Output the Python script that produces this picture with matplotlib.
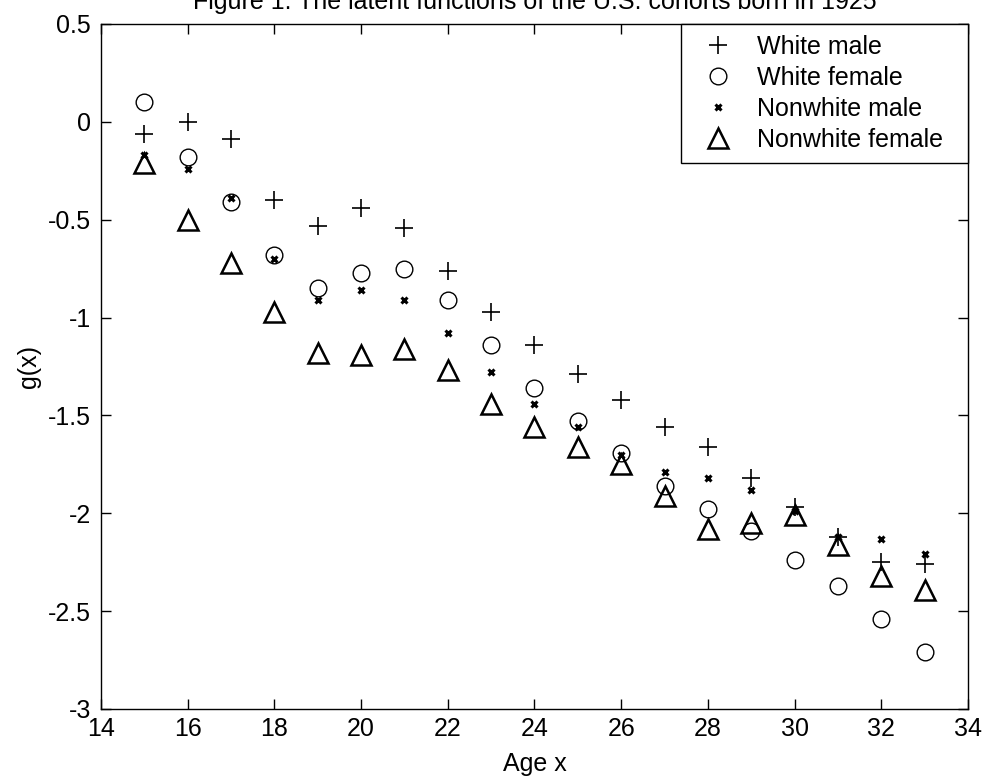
import matplotlib
matplotlib.use("Agg")
import matplotlib.pyplot as plt

# ---- data ----
ages = [15, 16, 17, 18, 19, 20, 21, 22, 23, 24, 25, 26, 27, 28, 29, 30, 31, 32, 33]
white_male = [-0.06, 0.00, -0.09, -0.40, -0.53, -0.44, -0.54, -0.76, -0.97, -1.14,
              -1.29, -1.42, -1.56, -1.66, -1.82, -1.97, -2.12, -2.25, -2.26]
white_female = [0.10, -0.18, -0.41, -0.68, -0.85, -0.77, -0.75, -0.91, -1.14, -1.36,
                -1.53, -1.69, -1.86, -1.98, -2.09, -2.24, -2.37, -2.54, -2.71]
nonwhite_male = [-0.17, -0.24, -0.39, -0.70, -0.91, -0.86, -0.91, -1.08, -1.28, -1.44,
                 -1.56, -1.70, -1.79, -1.82, -1.88, -1.99, -2.12, -2.13, -2.21]
nonwhite_female = [-0.21, -0.50, -0.72, -0.97, -1.18, -1.19, -1.16, -1.27, -1.44, -1.56,
                   -1.66, -1.75, -1.91, -2.08, -2.05, -2.01, -2.16, -2.32, -2.39]

series_names = ['White male', 'White female', 'Nonwhite male', 'Nonwhite female']

xticks = [14, 16, 18, 20, 22, 24, 26, 28, 30, 32, 34]
yticks = [-3, -2.5, -2, -1.5, -1, -0.5, 0, 0.5]
yticklabels = ['-3', '-2.5', '-2', '-1.5', '-1', '-0.5', '0', '0.5']

FS = 18
plt.rcParams['font.family'] = ['Liberation Sans', 'DejaVu Sans']
plt.rcParams['font.size'] = FS

fig = plt.figure(figsize=(9.86, 7.81), dpi=100)
ax = fig.add_axes([0.1024, 0.0922, 0.8793, 0.8771])

# trailing spaces give the legend box the extra right margin seen in the original
ax.plot(ages, white_male, linestyle='none', marker='+', color='black',
        markersize=13, markeredgewidth=1.2, label=series_names[0] + '  ')
ax.plot(ages, white_female, linestyle='none', marker='o', color='black',
        markerfacecolor='none', markersize=12, markeredgewidth=1.0,
        label=series_names[1] + '  ')
ax.plot(ages, nonwhite_male, linestyle='none', marker='x', color='black',
        markersize=5, markeredgewidth=2.2, label=series_names[2] + '  ')
ax.plot(ages, nonwhite_female, linestyle='none', marker='^', color='black',
        markerfacecolor='none', markersize=14, markeredgewidth=1.8,
        label=series_names[3] + '  ')

ax.set_xlim(14, 34)
ax.set_ylim(-3, 0.5)
ax.set_xticks(xticks)
ax.set_xticklabels([str(t) for t in xticks])
ax.set_yticks(yticks)
ax.set_yticklabels(yticklabels)

ax.tick_params(direction='in', length=7, width=1, top=True, right=True,
               labelsize=FS)
ax.tick_params(axis='x', pad=6)
ax.tick_params(axis='y', pad=7)
for sp in ax.spines.values():
    sp.set_linewidth(1.0)

ax.set_xlabel('Age x', fontsize=FS, labelpad=8)
ax.set_ylabel('g(x)', fontsize=FS, labelpad=5)
ax.set_title('Figure 1. The latent functions of the U.S. cohorts born in 1925',
             fontsize=FS, pad=11)

leg = ax.legend(loc='upper right', borderaxespad=0, fancybox=False,
                edgecolor='black', framealpha=1, fontsize=FS,
                handletextpad=0.56, labelspacing=0.28, borderpad=0.45,
                handlelength=2.0)
leg.get_frame().set_linewidth(1.0)

fig.savefig('out.png', dpi=100, facecolor='white')
plt.close(fig)
